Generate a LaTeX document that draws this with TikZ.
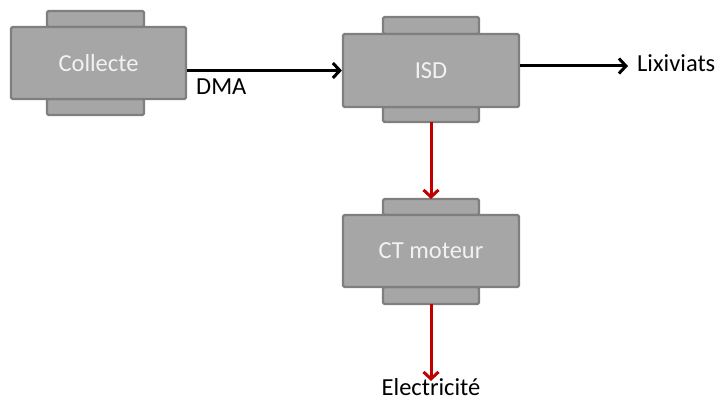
\documentclass[tikz,border=0pt]{standalone}
\usepackage{fontspec}
\setmainfont{Carlito}
\usetikzlibrary{arrows.meta}
\pgfdeclarelayer{background}
\pgfsetlayers{background,main}
\definecolor{boxfill}{HTML}{A6A6A6}
\definecolor{boxline}{HTML}{7F7F7F}
\definecolor{boxtext}{HTML}{F2F2F2}
\definecolor{redline}{HTML}{C00000}
\tikzset{
  procbox/.style={draw=boxline, fill=boxfill, line width=2.2pt, rounded corners=1.5pt,
    inner sep=0pt, text=boxtext, font=\fontsize{24.5}{27}\selectfont},
  tabbox/.style={draw=boxline, fill=boxfill, line width=2.2pt, rounded corners=1.5pt},
  lbl/.style={inner sep=0pt, text=black, font=\fontsize{24.5}{27}\selectfont},
  blackarrow/.style={draw=black, line width=3pt, -{Straight Barb[length=7pt,width=15pt,line width=3pt]}},
  redarrow/.style={draw=redline, line width=3pt, -{Straight Barb[length=7pt,width=15pt,line width=3pt]}}
}
\begin{document}
\begin{tikzpicture}[x=1pt,y=1pt]
\useasboundingbox (0,0) rectangle (720,401);
% main boxes
\node[procbox, minimum width=175pt, minimum height=72pt] (col) at (98.5,338) {Collecte};
\node[procbox, minimum width=176pt, minimum height=73pt] (isd) at (431,330.5) {ISD};
\node[procbox, minimum width=176pt, minimum height=72pt] (ct) at (431,150) {CT moteur};
% tabs
\begin{pgfonlayer}{background}
\draw[tabbox] (47,374) rectangle (144,390);
\draw[tabbox] (47,286) rectangle (144,302);
\draw[tabbox] (383,367) rectangle (479,384);
\draw[tabbox] (383,279) rectangle (479,294);
\draw[tabbox] (383,186) rectangle (479,202);
\draw[tabbox] (383,97) rectangle (479,114);
\end{pgfonlayer}
\coordinate (isdtop) at (431,279);
\coordinate (cttop) at (431,202);
\coordinate (ctbot) at (431,97);
\coordinate (elec) at (431,20);
\coordinate (lixend) at (628,335);
% connectors
\draw[blackarrow] (isd.west -| col.east) -- (isd.west);
\node[lbl, anchor=west] (dma) at (196,314) {DMA};
\draw[blackarrow] (lixend -| isd.east) -- (lixend);
\node[lbl, anchor=west] (lix) at (637,338) {Lixiviats};
\draw[redarrow] (isdtop) -- (cttop);
\draw[redarrow] (ctbot) -- (elec);
\node[lbl, anchor=base] (el) at (431,5.5) {Electricité};
\end{tikzpicture}
\end{document}
